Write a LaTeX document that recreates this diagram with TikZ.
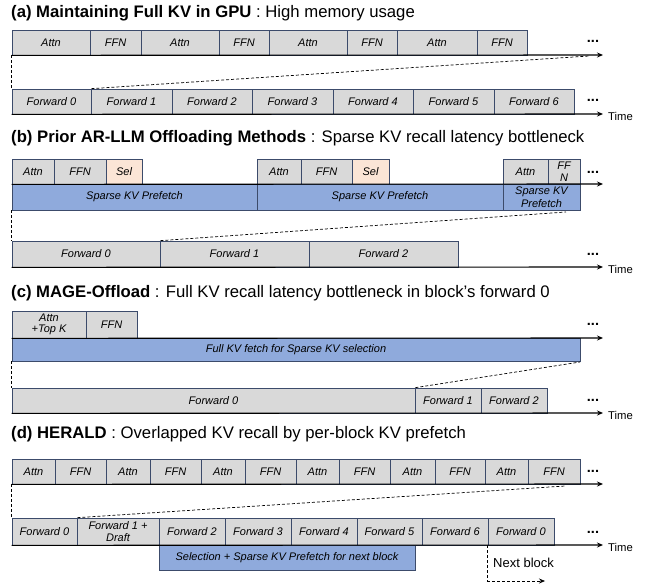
\documentclass[tikz,border=0pt]{standalone}
\usepackage{fontspec}
\setmainfont{Liberation Sans}
\usetikzlibrary{arrows.meta}
\definecolor{bord}{HTML}{3C4B6B}
\definecolor{gfill}{HTML}{D9D9D9}
\definecolor{bfill}{HTML}{8FAADC}
\definecolor{pfill}{HTML}{FBE5D6}
\newcommand\boxfont{\itshape\fontsize{11}{11}\selectfont}
\newcommand\bx[7][gbox]{\node[#1, minimum width={(#5-#3)*1pt}, minimum height={(#6-#4)*1pt}] (#2) at ({(#3+#5)/2},{(#4+#6)/2}) {#7};}
\tikzset{
  gbox/.style={draw=bord, fill=gfill, line width=0.7pt, inner sep=0pt, font=\boxfont, align=center},
  bbox/.style={gbox, fill=bfill},
  pbox/.style={gbox, fill=pfill},
  axis/.style={line width=1.1pt, -{Stealth[length=6pt,width=5pt]}},
  dashln/.style={dash pattern=on 3pt off 2pt, line width=0.7pt},
  dashar/.style={dashln, -{Stealth[length=6pt,width=5pt]}},
  ttl/.style={anchor=base west, inner sep=0pt, font=\fontsize{16.7}{18}\selectfont},
  dotsn/.style={inner sep=0pt, font=\bfseries\fontsize{14.5}{14.5}\selectfont},
  timel/.style={anchor=west, inner sep=0pt, font=\fontsize{11.3}{11.3}\selectfont},
}
\begin{document}
\begin{tikzpicture}[x=1pt,y=-1pt]
\useasboundingbox (0,0) rectangle (650,584);
% ---------- (a)
\node[ttl] (ta) at (11,17) {\textbf{(a) Maintaining Full KV in GPU} : High memory usage};
\bx{a1}{12}{30}{90}{55}{Attn}
\bx{a2}{90}{30}{141}{55}{FFN}
\bx{a3}{141}{30}{219}{55}{Attn}
\bx{a4}{219}{30}{269}{55}{FFN}
\bx{a5}{269}{30}{347}{55}{Attn}
\bx{a6}{347}{30}{397}{55}{FFN}
\bx{a7}{397}{30}{477}{55}{Attn}
\bx{a8}{477}{30}{527}{55}{FFN}
\bx{af0}{12}{89}{91}{114}{Forward 0}
\bx{af1}{91}{89}{172}{114}{Forward 1}
\bx{af2}{172}{89}{252}{114}{Forward 2}
\bx{af3}{252}{89}{333}{114}{Forward 3}
\bx{af4}{333}{89}{413}{114}{Forward 4}
\bx{af5}{413}{89}{494}{114}{Forward 5}
\bx{af6}{494}{89}{574}{114}{Forward 6}
\coordinate (ae1) at (603,55);
\coordinate (ae2) at (603,114);
\coordinate (ad) at (589,56);
\draw[axis] (a1.south west) -- (ae1);
\draw[axis] (af0.south west) -- (ae2);
\draw[dashln] (a1.south west) -- (af0.north west);
\draw[dashln] (af0.north east) -- (ad);
\node[dotsn] (adt1) at (593,41) {...};
\node[dotsn] (adt2) at (593,100) {...};
\node[timel] (atime) at (608,116) {Time};
% ---------- (b)
\node[ttl] (tb) at (11,142) {\textbf{(b) Prior AR-LLM Offloading Methods} : Sparse KV recall latency bottleneck};
\bx{b1}{12}{159}{54}{184}{Attn}
\bx{b2}{54}{159}{106}{184}{FFN}
\bx[pbox]{b3}{106}{159}{142}{184}{Sel}
\bx{b4}{257}{159}{301}{184}{Attn}
\bx{b5}{301}{159}{352}{184}{FFN}
\bx[pbox]{b6}{352}{159}{389}{184}{Sel}
\bx{b7}{503}{159}{548}{184}{Attn}
\bx{b8}{548}{159}{580}{184}{FF\\[0.5pt]N}
\bx[bbox]{bp1}{12}{184}{257}{210}{Sparse KV Prefetch}
\bx[bbox]{bp2}{257}{184}{503}{210}{Sparse KV Prefetch}
\bx[bbox]{bp3}{503}{184}{580}{210}{Sparse KV\\[1.5pt]Prefetch}
\bx{bf0}{12}{241}{160}{267}{Forward 0}
\bx{bf1}{160}{241}{309}{267}{Forward 1}
\bx{bf2}{309}{241}{458}{267}{Forward 2}
\coordinate (be1) at (603,184);
\coordinate (be2) at (603,267);
\coordinate (bd) at (566,212);
\draw[axis] (b1.south west) -- (be1);
\draw[axis] (bf0.south west) -- (be2);
\draw[dashln] (bp1.south west) -- (bf0.north west);
\draw[dashln] (bf0.north east) -- (bd);
\node[dotsn] (bdt1) at (593,172) {...};
\node[dotsn] (bdt2) at (593,254) {...};
\node[timel] (btime) at (608,269) {Time};
% ---------- (c)
\node[ttl] (tc) at (11,297) {\textbf{(c) MAGE-Offload} : Full KV recall latency bottleneck in block's forward 0};
\bx{c1}{12}{311}{86}{338}{Attn\\[0.5pt]+Top K}
\bx{c2}{86}{311}{137}{338}{FFN}
\bx[bbox]{cp}{12}{338}{580}{361}{Full KV fetch for Sparse KV selection}
\bx{cf0}{12}{388}{415}{413}{Forward 0}
\bx{cf1}{415}{388}{481}{413}{Forward 1}
\bx{cf2}{481}{388}{547}{413}{Forward 2}
\coordinate (ce1) at (603,338);
\coordinate (ce2) at (603,413);
\coordinate (cd) at (580,362);
\draw[axis] (c1.south west) -- (ce1);
\draw[axis] (cf0.south west) -- (ce2);
\draw[dashln] (cp.south west) -- (cf0.north west);
\draw[dashln] (cf0.north east) -- (cd);
\node[dotsn] (cdt1) at (593,324) {...};
\node[dotsn] (cdt2) at (593,400) {...};
\node[timel] (ctime) at (608,415) {Time};
% ---------- (d)
\node[ttl] (td) at (11,438) {\textbf{(d) HERALD} : Overlapped KV recall by per-block KV prefetch};
\bx{d1}{12}{459}{55}{484}{Attn}
\bx{d2}{55}{459}{106}{484}{FFN}
\bx{d3}{106}{459}{150}{484}{Attn}
\bx{d4}{150}{459}{201}{484}{FFN}
\bx{d5}{201}{459}{245}{484}{Attn}
\bx{d6}{245}{459}{296}{484}{FFN}
\bx{d7}{296}{459}{339}{484}{Attn}
\bx{d8}{339}{459}{390}{484}{FFN}
\bx{d9}{390}{459}{435}{484}{Attn}
\bx{d10}{435}{459}{485}{484}{FFN}
\bx{d11}{485}{459}{528}{484}{Attn}
\bx{d12}{528}{459}{580}{484}{FFN}
\bx{df0}{12}{518}{77}{545}{Forward 0}
\bx{df1}{77}{518}{159}{545}{Forward 1 +\\[1.5pt]Draft}
\bx{df2}{159}{518}{225}{545}{Forward 2}
\bx{df3}{225}{518}{291}{545}{Forward 3}
\bx{df4}{291}{518}{357}{545}{Forward 4}
\bx{df5}{357}{518}{422}{545}{Forward 5}
\bx{df6}{422}{518}{488}{545}{Forward 6}
\bx{df7}{488}{518}{554}{545}{Forward 0}
\bx[bbox]{dp}{159}{545}{415}{570}{Selection + Sparse KV Prefetch for next block}
\coordinate (de1) at (603,484);
\coordinate (de2) at (603,545);
\coordinate (dd) at (565,486);
\coordinate (nb) at (545,581);
\draw[axis] (d1.south west) -- (de1);
\draw[axis] (df0.south west) -- (de2);
\draw[dashln] (d1.south west) -- (df0.north west);
\draw[dashln] (df0.north east) -- (dd);
\draw[dashar] (df7.south west) |- (nb);
\node[dotsn] (ddt1) at (593,471) {...};
\node[dotsn] (ddt2) at (593,532) {...};
\node[timel] (dtime) at (608,547) {Time};
\node[anchor=west, inner sep=0pt, font=\fontsize{13}{13}\selectfont] (nbl) at (493,563) {Next block};
\end{tikzpicture}
\end{document}
